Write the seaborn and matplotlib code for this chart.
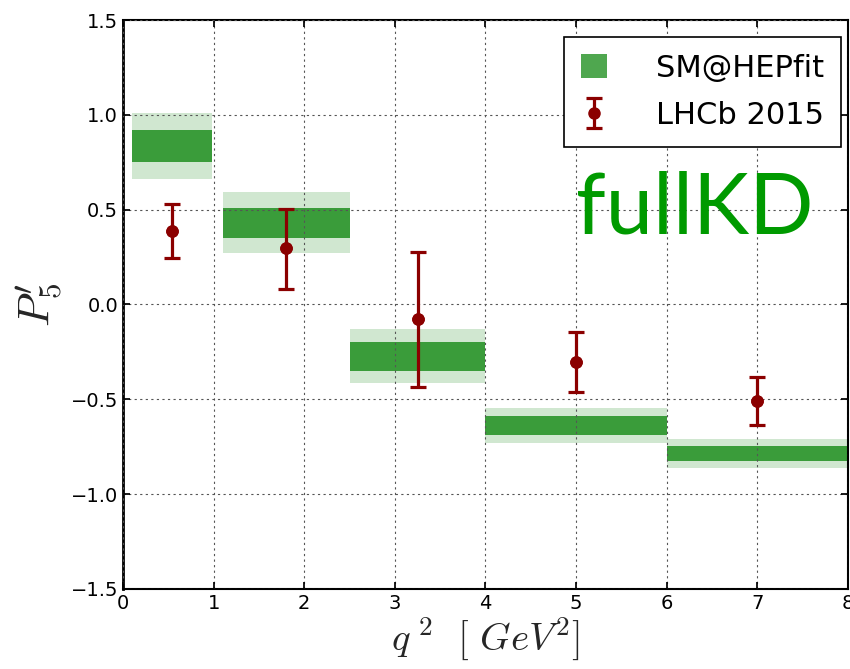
import matplotlib
matplotlib.use('Agg')
import matplotlib.pyplot as plt
import matplotlib.patches as mpatches
import seaborn as sns
import pandas as pd

# q^2 bins
bin_lo = [0.1, 1.1, 2.5, 4.0, 6.0]
bin_hi = [0.98, 2.5, 4.0, 6.0, 8.0]

# SM@HEPfit bands (outer and inner)
sm_outer_lo = [0.66, 0.27, -0.415, -0.73, -0.863]
sm_outer_hi = [1.01, 0.595, -0.13, -0.547, -0.709]
sm_inner_lo = [0.75, 0.35, -0.35, -0.686, -0.825]
sm_inner_hi = [0.92, 0.51, -0.20, -0.59, -0.746]

# LHCb 2015 points
lhcb_x = [0.54, 1.8, 3.25, 5.0, 7.0]
lhcb_y = [0.387, 0.296, -0.078, -0.305, -0.507]
lhcb_hi = [0.528, 0.503, 0.275, -0.143, -0.38]
lhcb_lo = [0.243, 0.083, -0.433, -0.463, -0.635]

x_ticks = [0, 1, 2, 3, 4, 5, 6, 7, 8]
y_ticks = [-1.5, -1.0, -0.5, 0.0, 0.5, 1.0, 1.5]

sns.set_theme(style='ticks')
plt.rcParams['mathtext.fontset'] = 'cm'
plt.rcParams['font.family'] = ['DejaVu Sans']
plt.rcParams['text.color'] = 'black'

df = pd.DataFrame({'q2': lhcb_x, 'P5p': lhcb_y})
bins = pd.DataFrame({'lo': bin_lo, 'hi': bin_hi,
                     'olo': sm_outer_lo, 'ohi': sm_outer_hi,
                     'ilo': sm_inner_lo, 'ihi': sm_inner_hi})
bins['w'] = bins['hi'] - bins['lo']

green = (0.08, 0.54, 0.08)
red = '#8b0000'

fig = plt.figure(figsize=(8.5, 6.69), dpi=100)
ax = fig.add_axes([0.1447, 0.1196, 0.8529, 0.8505])

# bands
ax.bar(bins['lo'], bins['ohi'] - bins['olo'], width=bins['w'], bottom=bins['olo'],
       align='edge', color=green, alpha=0.2, linewidth=0, zorder=1)
ax.bar(bins['lo'], bins['ihi'] - bins['ilo'], width=bins['w'], bottom=bins['ilo'],
       align='edge', color=green, alpha=0.8, linewidth=0, zorder=2)

# data
yerr = [[y - l for y, l in zip(lhcb_y, lhcb_lo)], [h - y for y, h in zip(lhcb_y, lhcb_hi)]]
eb = ax.errorbar(lhcb_x, lhcb_y, yerr=yerr, fmt='o', color=red, ms=8, elinewidth=2.3,
                 capsize=6, capthick=2.3, zorder=4)
sns.scatterplot(data=df, x='q2', y='P5p', color=red, s=70, edgecolor=red, zorder=5,
                ax=ax, legend=False)

ax.set_xlim(0, 8)
ax.set_ylim(-1.5, 1.5)
ax.set_xticks(x_ticks)
ax.set_yticks(y_ticks)
ax.set_xticklabels([str(t) for t in x_ticks])
ax.set_yticklabels([f'{t:.1f}'.replace('-', '\u2212') for t in y_ticks])
ax.tick_params(direction='in', length=5, labelsize=14, colors='black', top=True, right=True)
ax.grid(True, color='#555555', linestyle=(0, (2, 3)), linewidth=0.8, zorder=3)
ax.set_axisbelow(False)
for s in ax.spines.values():
    s.set_color('black')
    s.set_linewidth(1.5)
ax.spines['left'].set_linewidth(2)

ax.set_xlabel(r'$q^{\ 2}\ \ [\ GeV^2]$', fontsize=28, labelpad=2)
ax.set_ylabel(r'$P_5^{\prime}$', fontsize=32, labelpad=4)

ax.text(5.0, 0.375, 'fullKD', color='#009a00', fontsize=61, family='Lato',
        ha='left', va='baseline', zorder=6)

sm_patch = mpatches.Patch(color=green, alpha=0.75, linewidth=0)
leg = ax.legend([sm_patch, eb], ['SM@HEPfit', 'LHCb 2015'], loc='upper right',
                bbox_to_anchor=(0.990, 0.970), borderaxespad=0, fontsize=22,
                fancybox=False, framealpha=1, edgecolor='black', handlelength=0.85,
                handleheight=0.85, handletextpad=1.6, borderpad=0.55, labelspacing=0.6,
                labelcolor='black')
leg.get_frame().set_linewidth(1.2)
leg.set_zorder(7)

fig.savefig('out.png', dpi=100)
